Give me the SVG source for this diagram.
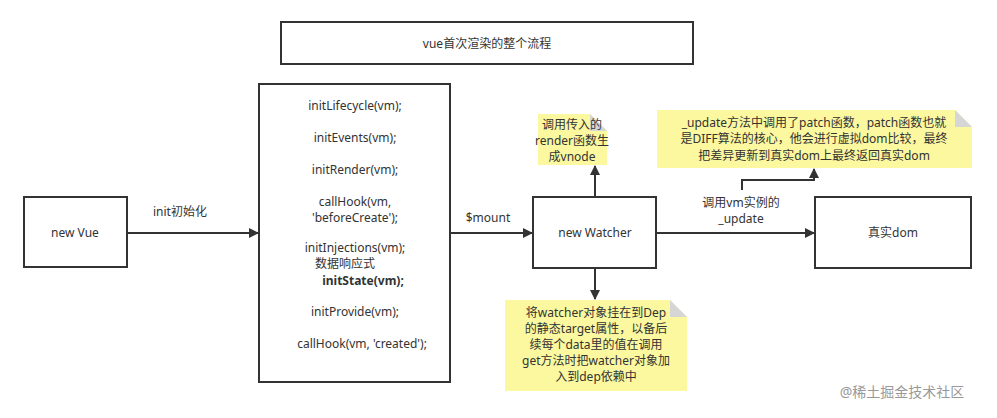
<svg xmlns="http://www.w3.org/2000/svg" width="997" height="418" viewBox="0 0 997 418">
<style>
.box{fill:#fff;stroke:#333;stroke-width:2}
.note{fill:#fbf8a0}
.fold{fill:#d6d6d6}
text{font-family:"Noto Sans","Noto Sans CJK SC",sans-serif;font-size:12px;fill:#333;text-anchor:middle}
.ln{stroke:#333;stroke-width:2;fill:none}
</style>
<defs><marker id="a" markerWidth="10" markerHeight="10" refX="9" refY="5" orient="auto" markerUnits="userSpaceOnUse"><path d="M0,0L10,5L0,10z" fill="#333"/></marker></defs>
<rect width="997" height="418" fill="#fff"/>
<g id="title"><rect class="box" x="281" y="22" width="412" height="42"/><text x="487" y="48">vue首次渲染的整个流程</text></g>
<g id="vue"><rect class="box" x="24" y="197" width="103" height="70"/><text x="75" y="237">new Vue</text></g>
<g id="init"><rect class="box" x="259" y="84" width="191" height="298"/>
<text x="355" y="110">initLifecycle(vm);</text>
<text x="355" y="142">initEvents(vm);</text>
<text x="355" y="174">initRender(vm);</text>
<text x="355" y="206">callHook(vm,</text>
<text x="355" y="222">'beforeCreate');</text>
<text x="355" y="252">initInjections(vm);</text>
<text x="345" y="268">数据响应式</text>
<text x="363" y="285" font-weight="bold">initState(vm);</text>
<text x="355" y="316">initProvide(vm);</text>
<text x="362" y="348">callHook(vm, 'created');</text></g>
<g id="watcher"><rect class="box" x="533" y="197" width="123" height="71"/><text x="595" y="237">new Watcher</text></g>
<g id="dom"><rect class="box" x="815" y="197" width="156" height="71"/><text x="893" y="237">真实dom</text></g>
<g id="note1"><path class="note" d="M538,114H590L607,131V165H538z"/><path class="fold" d="M590,114L607,131H590z"/>
<text x="572" y="129">调用传入的</text><text x="572" y="145">render函数生</text><text x="572" y="161">成vnode</text></g>
<g id="note2"><path class="note" d="M657,110H955L972,127V168H657z"/><path class="fold" d="M955,110L972,127H955z"/>
<text x="814" y="127">_update方法中调用了patch函数，patch函数也就</text><text x="814" y="143">是DIFF算法的核心，他会进行虚拟dom比较，最终</text><text x="814" y="160">把差异更新到真实dom上最终返回真实dom</text></g>
<g id="note3"><path class="note" d="M505,300H670L687,317V391H505z"/><path class="fold" d="M670,300L687,317H670z"/>
<text x="596" y="317">将watcher对象挂在到Dep</text><text x="596" y="333">的静态target属性，以备后</text><text x="596" y="349">续每个data里的值在调用</text><text x="596" y="365">get方法时把watcher对象加</text><text x="596" y="381">入到dep依赖中</text></g>
<g id="connectors">
<path class="ln" d="M127,233H258" marker-end="url(#a)"/><text x="180" y="216">init初始化</text>
<path class="ln" d="M450,233H532" marker-end="url(#a)"/><text x="488" y="222">$mount</text>
<path class="ln" d="M656,233H814" marker-end="url(#a)"/><text x="741" y="207">调用vm实例的</text><text x="741" y="223">_update</text>
<path class="ln" d="M742,190V180H814V169" marker-end="url(#a)"/>
<path class="ln" d="M595,197V166" marker-end="url(#a)"/>
<path class="ln" d="M595,268V299" marker-end="url(#a)"/>
</g>
<text x="902" y="397" style="font-size:14px;fill:#999">@稀土掘金技术社区</text>
</svg>
